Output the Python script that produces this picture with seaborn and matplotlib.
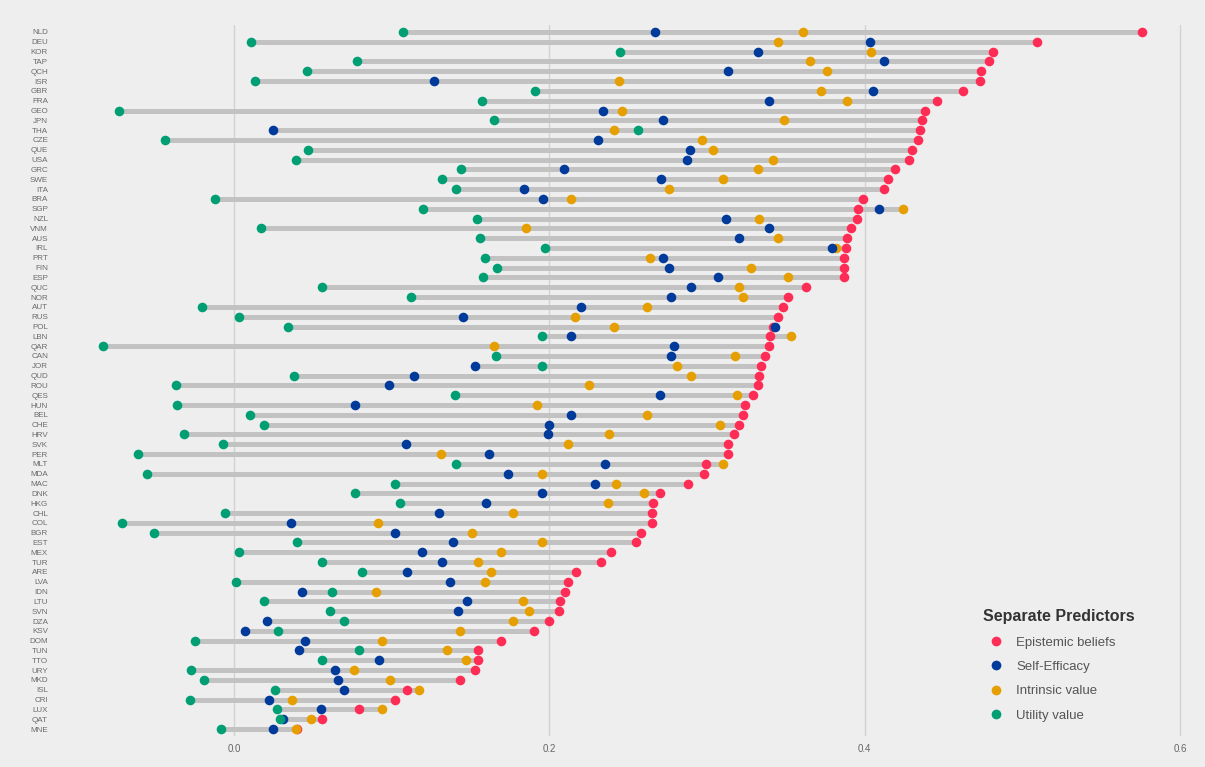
import pandas as pd
import matplotlib.pyplot as plt
import seaborn as sns

# Countries, top to bottom
countries = ["NLD", "DEU", "KOR", "TAP", "QCH", "ISR", "GBR", "FRA", "GEO", "JPN", "THA", "CZE",
             "QUE", "USA", "GRC", "SWE", "ITA", "BRA", "SGP", "NZL", "VNM", "AUS", "IRL", "PRT",
             "FIN", "ESP", "QUC", "NOR", "AUT", "RUS", "POL", "LBN", "QAR", "CAN", "JOR", "QUD",
             "ROU", "QES", "HUN", "BEL", "CHE", "HRV", "SVK", "PER", "MLT", "MDA", "MAC", "DNK",
             "HKG", "CHL", "COL", "BGR", "EST", "MEX", "TUR", "ARE", "LVA", "IDN", "LTU", "SVN",
             "DZA", "KSV", "DOM", "TUN", "TTO", "URY", "MKD", "ISL", "CRI", "LUX", "QAT", "MNE"]

epistemic = [0.576, 0.509, 0.481, 0.479, 0.474, 0.473, 0.462, 0.446, 0.438, 0.436, 0.435, 0.434,
             0.430, 0.428, 0.419, 0.415, 0.412, 0.399, 0.396, 0.395, 0.391, 0.389, 0.388, 0.387,
             0.387, 0.387, 0.363, 0.351, 0.348, 0.345, 0.342, 0.340, 0.339, 0.337, 0.334, 0.333,
             0.332, 0.329, 0.324, 0.323, 0.320, 0.317, 0.313, 0.313, 0.299, 0.298, 0.288, 0.270,
             0.266, 0.265, 0.265, 0.258, 0.255, 0.239, 0.233, 0.217, 0.212, 0.210, 0.207, 0.206,
             0.200, 0.190, 0.169, 0.155, 0.155, 0.153, 0.143, 0.110, 0.102, 0.079, 0.056, 0.040]

self_efficacy = [0.267, 0.403, 0.332, 0.412, 0.313, 0.127, 0.405, 0.339, 0.234, 0.272, 0.025, 0.231,
                 0.289, 0.287, 0.209, 0.271, 0.184, 0.196, 0.409, 0.312, 0.339, 0.320, 0.379, 0.272,
                 0.276, 0.307, 0.290, 0.277, 0.220, 0.145, 0.343, 0.214, 0.279, 0.277, 0.153, 0.114,
                 0.098, 0.270, 0.077, 0.214, 0.200, 0.199, 0.109, 0.162, 0.235, 0.174, 0.229, 0.195,
                 0.160, 0.130, 0.036, 0.102, 0.139, 0.119, 0.132, 0.110, 0.137, 0.043, 0.148, 0.142,
                 0.021, 0.007, 0.045, 0.041, 0.092, 0.064, 0.066, 0.070, 0.022, 0.055, 0.031, 0.025]

intrinsic = [0.361, 0.345, 0.404, 0.365, 0.376, 0.244, 0.372, 0.389, 0.246, 0.349, 0.241, 0.297,
             0.304, 0.342, 0.332, 0.310, 0.276, 0.214, 0.424, 0.333, 0.185, 0.345, 0.382, 0.264,
             0.328, 0.351, 0.320, 0.323, 0.262, 0.216, 0.241, 0.353, 0.165, 0.318, 0.281, 0.290,
             0.225, 0.319, 0.192, 0.262, 0.308, 0.238, 0.212, 0.131, 0.310, 0.195, 0.242, 0.260,
             0.237, 0.177, 0.091, 0.151, 0.195, 0.169, 0.155, 0.163, 0.159, 0.090, 0.183, 0.187,
             0.177, 0.143, 0.094, 0.135, 0.147, 0.076, 0.099, 0.117, 0.037, 0.094, 0.049, 0.039]

utility = [0.107, 0.011, 0.245, 0.078, 0.046, 0.013, 0.191, 0.157, -0.073, 0.165, 0.256, -0.044,
           0.047, 0.039, 0.144, 0.132, 0.141, -0.012, 0.120, 0.154, 0.017, 0.156, 0.197, 0.159,
           0.167, 0.158, 0.056, 0.112, -0.020, 0.003, 0.034, 0.195, -0.083, 0.166, 0.195, 0.038,
           -0.037, 0.140, -0.036, 0.010, 0.019, -0.032, -0.007, -0.061, 0.141, -0.055, 0.102, 0.077,
           0.105, -0.006, -0.071, -0.051, 0.040, 0.003, 0.056, 0.081, 0.001, 0.062, 0.019, 0.061,
           0.070, 0.028, -0.025, 0.079, 0.056, -0.027, -0.019, 0.026, -0.028, 0.027, 0.029, -0.008]

predictors = ["Epistemic beliefs", "Self-Efficacy", "Intrinsic value", "Utility value"]
colors = ["#FF2D55", "#003A9B", "#E69F00", "#009E73"]

wide = pd.DataFrame({"Country": countries,
                     "Epistemic beliefs": epistemic,
                     "Self-Efficacy": self_efficacy,
                     "Intrinsic value": intrinsic,
                     "Utility value": utility})
wide["lo"] = wide[predictors].min(axis=1)
wide["hi"] = wide[predictors].max(axis=1)
wide["pos"] = range(len(wide))

df = wide.melt(id_vars=["Country", "pos"], value_vars=predictors,
               var_name="Predictor", value_name="Value")

bg = "#EEEEEE"
sns.set_theme(style="white", rc={"axes.facecolor": bg, "figure.facecolor": bg})
plt.rcParams["font.family"] = ["Liberation Sans", "DejaVu Sans"]

fig = plt.figure(figsize=(12.05, 7.67), dpi=100)
ax = fig.add_axes([55 / 1205, 1 - 735.9 / 767, 1140 / 1205, 710.8 / 767])

# grey range segments
ax.hlines(wide["pos"], wide["lo"], wide["hi"], color="#C2C2C2", linewidth=3.6, zorder=1)

# draw order so overlapping dots look like the original
draw_order = ["Epistemic beliefs", "Intrinsic value", "Self-Efficacy", "Utility value"]
for k, p in enumerate(draw_order):
    sub = df[df["Predictor"] == p]
    sns.scatterplot(data=sub, x="Value", y="pos", color=colors[predictors.index(p)],
                    s=48, linewidth=0, ax=ax, zorder=3 + k, legend=False)

ax.set_xlim((55 - 234) / 1577, (1195 - 234) / 1577)
ax.set_ylim(71.7, -0.7)
ax.set_xticks([0.0, 0.2, 0.4, 0.6])
ax.set_xticklabels(["0.0", "0.2", "0.4", "0.6"])
ax.set_yticks(range(len(countries)))
ax.set_yticklabels(countries)
ax.tick_params(axis="y", labelsize=5.8, labelcolor="#6A6A6A", length=0, pad=5)
ax.tick_params(axis="x", labelsize=7, labelcolor="#666666", length=0, pad=6)
ax.grid(axis="x", color="#D2D2D2", linewidth=1.0)
ax.set_axisbelow(True)
for s in ax.spines.values():
    s.set_visible(False)
ax.set_xlabel("")
ax.set_ylabel("")

# legend
handles = [plt.Line2D([], [], marker="o", linestyle="", markersize=7,
                      markerfacecolor=c, markeredgewidth=0) for c in colors]
leg = fig.legend(handles, predictors, loc="upper left",
                 bbox_to_anchor=(978 / 1205, 1 - 604 / 767), frameon=False,
                 title="Separate Predictors", fontsize=9.5, labelspacing=0.92,
                 handletextpad=0.5, alignment="left", borderaxespad=0)
leg.get_title().set_fontweight("bold")
leg.get_title().set_fontsize(11.5)
leg.get_title().set_color("#333333")
for t in leg.get_texts():
    t.set_color("#555555")

plt.savefig("out.png", dpi=100, facecolor=bg)
